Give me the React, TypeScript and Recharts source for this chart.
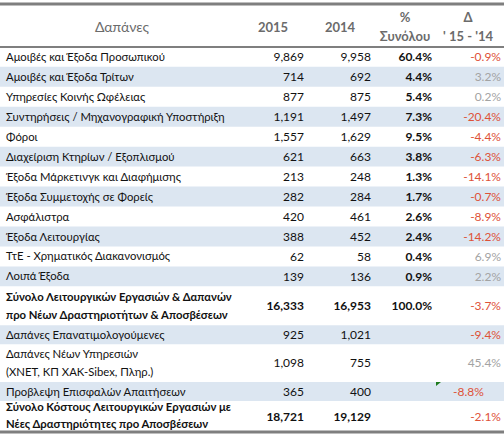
import { ComposedChart, XAxis, YAxis, Scatter, ReferenceArea, ReferenceLine } from 'recharts';

// table content
const HEADERS = ['Δαπάνες', '2015', '2014', '%\nΣυνόλου', "Δ\n' 15 - '14"];

const LABELS = [
  'Αμοιβές και Έξοδα Προσωπικού',
  'Αμοιβές και Έξοδα Τρίτων',
  'Υπηρεσίες Κοινής Ωφέλειας',
  'Συντηρήσεις / Μηχανογραφική Υποστήριξη',
  'Φόροι',
  'Διαχείριση Κτηρίων / Εξοπλισμού',
  'Έξοδα Μάρκετινγκ και Διαφήμισης',
  'Έξοδα Συμμετοχής σε Φορείς',
  'Ασφάλιστρα',
  'Έξοδα Λειτουργίας',
  'ΤτΕ - Χρηματικός Διακανονισμός',
  'Λοιπά Έξοδα',
  'Σύνολο Λειτουργικών Εργασιών & Δαπανών\nπρο Νέων Δραστηριοτήτων & Αποσβέσεων',
  'Δαπάνες Επανατιμολογούμενες',
  'Δαπάνες Νέων Υπηρεσιών\n(ΧΝΕΤ, ΚΠ ΧΑΚ-Sibex, Πληρ.)',
  'Προβλεψη Επισφαλών Απαιτήσεων',
  'Σύνολο Κόστους Λειτουργικών Εργασιών με\nΝέες Δραστηριότητες προ Αποσβέσεων',
];

const V2015 = [9869, 714, 877, 1191, 1557, 621, 213, 282, 420, 388, 62, 139, 16333, 925, 1098, 365, 18721];
const V2014 = [9958, 692, 875, 1497, 1629, 663, 248, 284, 461, 452, 58, 136, 16953, 1021, 755, 400, 19129];
const SHARE = [60.4, 4.4, 5.4, 7.3, 9.5, 3.8, 1.3, 1.7, 2.6, 2.4, 0.4, 0.9, 100.0, null, null, null, null];
const DELTA = [-0.9, 3.2, 0.2, -20.4, -4.4, -6.3, -14.1, -0.7, -8.9, -14.2, 6.9, 2.2, -3.7, -9.4, 45.4, -8.8, -2.1];

const TOTAL_ROWS = [12, 16];
const TEXT_DELTA_ROWS = [15]; // the sheet has this one stored as text (left aligned, green flag)

// layout: row heights in "line" units, header first
const HEADER_SPAN = 2.15;
const ROW_SPAN = [1, 1, 1, 1, 1, 1, 1, 1, 1, 1, 1, 1, 1.95, 0.95, 1.9, 0.95, 1.55];
const HEADER_X = [122, 273, 340, 405, 468];
const COL = { label: 6, y2015: 304, y2014: 371, share: 432, delta: 501, deltaText: 453 };

const W = 504;
const H = 435;
const FONT = 'Lato, "Open Sans", sans-serif';
const LINE = 18.5;
const RED = '#de5238';
const GREY = '#a3a3a3';

let acc = HEADER_SPAN;
const rows = LABELS.map((label, i) => {
  const top = acc;
  acc += ROW_SPAN[i];
  return { i, label, top, bottom: acc, mid: (top + acc) / 2, bold: TOTAL_ROWS.includes(i), shaded: i % 2 === 1 };
});
const END = acc;

const fmtNum = (v: number) => v.toLocaleString('en-US');
const fmtPct = (v: number) => v.toFixed(1) + '%';

function Cell(props: any) {
  const { cx, cy, payload } = props;
  const lines = String(payload.text).split('\n');
  const n = lines.length;
  return (
    <text
      x={cx}
      y={cy}
      textAnchor={payload.anchor}
      fontFamily={FONT}
      fontSize={payload.size || 12}
      fontWeight={payload.bold ? 700 : 400}
      fill={payload.color || '#111'}
    >
      {lines.map((ln, k) => (
        <tspan key={k} x={cx} y={cy + (k - (n - 1) / 2) * (payload.lh || LINE)} dy="0.36em">
          {ln}
        </tspan>
      ))}
    </text>
  );
}

function Flag(props: any) {
  const { cx, cy } = props;
  return <path d={`M${cx},${cy} h5 l-5,4 z`} fill="#1e7b1e" />;
}

const headerPts = HEADERS.map((h, k) => ({
  x: HEADER_X[k],
  y: HEADER_SPAN / 2 + 0.08,
  text: h,
  anchor: 'middle',
  bold: k > 0,
  size: k === 0 ? 14 : 13,
  color: '#6b6b6b',
  lh: 19,
}));

const labelPts = rows.map((r) => ({
  x: COL.label,
  y: r.mid - (r.i === 16 ? 0.05 : 0),
  text: r.label,
  anchor: 'start',
  bold: r.bold,
  size: 11.3,
  lh: r.i === 16 ? 17.5 : LINE,
}));
const y15Pts = rows.map((r) => ({ x: COL.y2015, y: r.mid, text: fmtNum(V2015[r.i]), anchor: 'end', bold: r.bold }));
const y14Pts = rows.map((r) => ({ x: COL.y2014, y: r.mid, text: fmtNum(V2014[r.i]), anchor: 'end', bold: r.bold }));
const sharePts = rows
  .filter((r) => SHARE[r.i] != null)
  .map((r) => ({ x: COL.share, y: r.mid, text: fmtPct(SHARE[r.i] as number), anchor: 'end', bold: true }));
const deltaPts = rows.map((r) => {
  const d = DELTA[r.i];
  const asText = TEXT_DELTA_ROWS.includes(r.i);
  return {
    x: asText ? COL.deltaText : COL.delta,
    y: r.mid,
    text: fmtPct(d),
    anchor: asText ? 'start' : 'end',
    color: d < 0 ? RED : GREY,
  };
});
const flagPts = rows
  .filter((r) => TEXT_DELTA_ROWS.includes(r.i))
  .map((r) => ({ x: COL.share + 4, y: r.top }));

export default function App() {
  return (
    <div style={{ width: W, height: H, background: '#fff' }}>
      <style>{'body{margin:0}'}</style>
      <ComposedChart width={W} height={H} margin={{ top: 4, right: 0, bottom: 3, left: 0 }}>
        <XAxis type="number" dataKey="x" domain={[0, W]} hide />
        <YAxis type="number" dataKey="y" domain={[0, END]} reversed hide />
        {rows
          .filter((r) => r.shaded)
          .map((r) => (
            <ReferenceArea key={r.i} y1={r.top} y2={r.bottom} fill="#dce6f1" fillOpacity={1} stroke="none" />
          ))}
        <ReferenceLine y={0} stroke="#7f7f7f" strokeWidth={3} />
        <ReferenceLine y={HEADER_SPAN} stroke="#7f7f7f" strokeWidth={2} />
        <ReferenceLine y={END} stroke="#7f7f7f" strokeWidth={3} />
        <Scatter data={headerPts} shape={Cell} isAnimationActive={false} />
        <Scatter data={labelPts} shape={Cell} isAnimationActive={false} />
        <Scatter data={y15Pts} shape={Cell} isAnimationActive={false} />
        <Scatter data={y14Pts} shape={Cell} isAnimationActive={false} />
        <Scatter data={sharePts} shape={Cell} isAnimationActive={false} />
        <Scatter data={deltaPts} shape={Cell} isAnimationActive={false} />
        <Scatter data={flagPts} shape={Flag} isAnimationActive={false} />
      </ComposedChart>
    </div>
  );
}
